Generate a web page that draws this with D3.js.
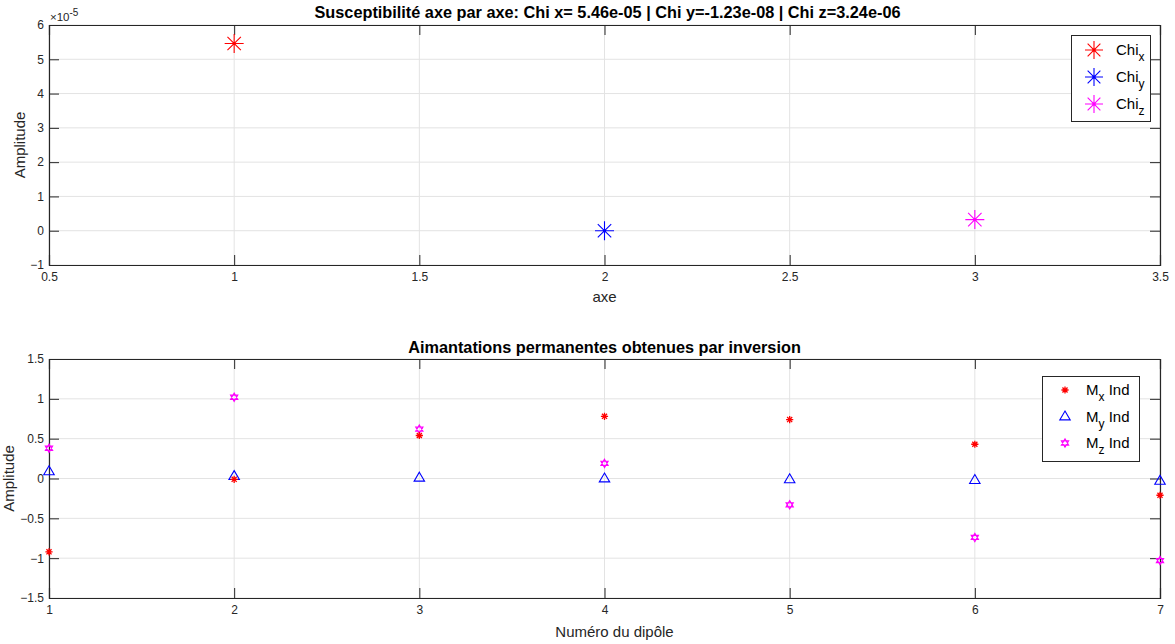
<!DOCTYPE html>
<html><head><meta charset="utf-8">
<script src="https://cdn.jsdelivr.net/npm/d3@7"></script>
<style>
body{margin:0;background:#fff;}
text{font-family:"Liberation Sans",Arial,Helvetica,sans-serif;}
</style></head>
<body><svg id="c" width="1175" height="644"></svg>
<script>
// ---- data ----
const topTitle = "Susceptibilité axe par axe: Chi x= 5.46e-05 | Chi y=-1.23e-08 | Chi z=3.24e-06";
const chiAxes = [1, 2, 3];
const chiValues = [5.46e-05, -1.23e-08, 3.24e-06];
const chiNames = ["x", "y", "z"];
const chiColors = ["#ff0000", "#0000ff", "#ff00ff"];
const topXTicks = [0.5, 1, 1.5, 2, 2.5, 3, 3.5];
const topYTicks = [-1, 0, 1, 2, 3, 4, 5, 6]; // x 1e-5

const botTitle = "Aimantations permanentes obtenues par inversion";
const dipoles = [1, 2, 3, 4, 5, 6, 7];
const Mx = [-0.92, -0.01, 0.54, 0.78, 0.74, 0.43, -0.21];
const My = [0.09, 0.03, 0.01, 0.00, -0.01, -0.02, -0.03];
const Mz = [0.38, 1.02, 0.62, 0.19, -0.33, -0.74, -1.03];
const botXTicks = [1, 2, 3, 4, 5, 6, 7];
const botYTicks = [-1.5, -1, -0.5, 0, 0.5, 1, 1.5];

const svg = d3.select("#c");
const axisCol = "#262626", gridCol = "#e3e3e3";

function frame(g, x, y, xt, yt, fmtX, fmtY){
  const [x0,x1] = x.range(), [y0,y1] = y.range(); // y0 bottom
  g.selectAll(".gx").data(xt).enter().append("line")
    .attr("x1",d=>x(d)).attr("x2",d=>x(d)).attr("y1",y0).attr("y2",y1)
    .attr("stroke",gridCol).attr("stroke-width",1);
  g.selectAll(".gy").data(yt).enter().append("line")
    .attr("y1",d=>y(d)).attr("y2",d=>y(d)).attr("x1",x0).attr("x2",x1)
    .attr("stroke",gridCol).attr("stroke-width",1);
  const tl = 10;
  const ax = g.append("g").attr("transform",`translate(0,${y0})`)
    .call(d3.axisBottom(x).tickValues(xt).tickSize(-tl).tickPadding(7).tickFormat(fmtX));
  const axT = g.append("g").attr("transform",`translate(0,${y1})`)
    .call(d3.axisTop(x).tickValues(xt).tickSize(-tl).tickFormat(""));
  const ay = g.append("g").attr("transform",`translate(${x0},0)`)
    .call(d3.axisLeft(y).tickValues(yt).tickSize(-tl).tickPadding(5).tickFormat(fmtY));
  const ayR = g.append("g").attr("transform",`translate(${x1},0)`)
    .call(d3.axisRight(y).tickValues(yt).tickSize(-tl).tickFormat(""));
  [ax,axT,ay,ayR].forEach(a=>{
    a.select(".domain").attr("stroke",axisCol).attr("stroke-width",1.2);
    a.selectAll(".tick line").attr("stroke",axisCol).attr("stroke-width",1);
    a.selectAll("text").attr("fill",axisCol).attr("font-size",12)
      .style("font-family",'"Liberation Sans",Arial,sans-serif');
  });
  return {ax, ay};
}

function asterisk(sel, r, color, sw){
  const p = [];
  for(let k=0;k<4;k++){
    const a = k*Math.PI/4;
    p.push(`M${-r*Math.cos(a)},${-r*Math.sin(a)}L${r*Math.cos(a)},${r*Math.sin(a)}`);
  }
  sel.append("path").attr("d",p.join("")).attr("stroke",color).attr("stroke-width",sw).attr("fill","none");
}
function triangle(sel, r, color){
  sel.append("path").attr("d",`M0,${-r}L${r*0.95},${r*0.62}L${-r*0.95},${r*0.62}Z`)
    .attr("stroke",color).attr("stroke-width",1.1).attr("fill","none");
}
function hexagram(sel, r, color){
  const t1=[], t2=[];
  for(let k=0;k<3;k++){
    const a1 = -Math.PI/2 + k*2*Math.PI/3, a2 = Math.PI/2 + k*2*Math.PI/3;
    t1.push([r*Math.cos(a1), r*Math.sin(a1)]);
    t2.push([r*Math.cos(a2), r*Math.sin(a2)]);
  }
  const d = "M"+t1.map(p=>p.join(",")).join("L")+"Z"+"M"+t2.map(p=>p.join(",")).join("L")+"Z";
  sel.append("path").attr("d",d).attr("stroke",color).attr("stroke-width",1.1).attr("fill","none");
}

// ---------- top panel ----------
const xT = d3.scaleLinear().domain([0.5,3.5]).range([49,1160]);
const yT = d3.scaleLinear().domain([-1,6]).range([265,25]);
const gT = svg.append("g");
frame(gT, xT, yT, topXTicks, topYTicks, d3.format(""), d3.format(""));
const ex = gT.append("text").attr("x",50).attr("y",21).attr("fill",axisCol).attr("font-size",11.5);
ex.append("tspan").text("×10");
ex.append("tspan").attr("dy",-5).attr("font-size",10).text("-5");

chiAxes.forEach((a,i)=>{
  const g = gT.append("g").attr("transform",`translate(${xT(a)},${yT(chiValues[i]*1e5)})`);
  asterisk(g, 9.5, chiColors[i], 1.1);
  g.append("circle").attr("r",1.6).attr("fill",chiColors[i]);
});
gT.append("text").attr("x",(49+1160)/2+3).attr("y",18).attr("text-anchor","middle")
  .attr("font-size",16.3).attr("font-weight","bold")
  .style("font-family",'"Liberation Sans Narrow","Arial Narrow","Liberation Sans",sans-serif')
  .attr("fill","#000").text(topTitle);
gT.append("text").attr("x",(49+1160)/2).attr("y",302).attr("text-anchor","middle")
  .attr("font-size",15).attr("fill",axisCol).text("axe");
gT.append("text").attr("transform",`translate(25,${(25+265)/2}) rotate(-90)`).attr("text-anchor","middle")
  .attr("font-size",15).attr("fill",axisCol).text("Amplitude");
const lT = gT.append("g");
lT.append("rect").attr("x",1071.5).attr("y",35.5).attr("width",79).attr("height",86)
  .attr("fill","#fff").attr("stroke",axisCol).attr("stroke-width",1);
chiNames.forEach((n,i)=>{
  const cy = 50 + i*27;
  const g = lT.append("g").attr("transform",`translate(1094,${cy})`);
  asterisk(g, 9, chiColors[i], 1.1);
  g.append("circle").attr("r",1.6).attr("fill",chiColors[i]);
  const t = lT.append("text").attr("x",1116).attr("y",cy+5).attr("font-size",15).attr("fill","#000");
  t.append("tspan").text("Chi");
  t.append("tspan").attr("dy",6).attr("font-size",12).text(n);
});

// ---------- bottom panel ----------
const xB = d3.scaleLinear().domain([1,7]).range([49,1160]);
const yB = d3.scaleLinear().domain([-1.5,1.5]).range([598,359]);
const gB = svg.append("g");
frame(gB, xB, yB, botXTicks, botYTicks, d3.format(""), d3.format(""));
const mkAst = (g,c)=>{asterisk(g,3.6,c,1.3);};
dipoles.forEach((d,i)=>{
  hexagram(gB.append("g").attr("transform",`translate(${xB(d)},${yB(Mz[i])})`), 4.2, "#ff00ff");
  triangle(gB.append("g").attr("transform",`translate(${xB(d)},${yB(My[i])})`), 5.5, "#0000ff");
  mkAst(gB.append("g").attr("transform",`translate(${xB(d)},${yB(Mx[i])})`), "#ff0000");
});
gB.append("text").attr("x",(49+1160)/2).attr("y",353).attr("text-anchor","middle")
  .attr("font-size",16.3).attr("font-weight","bold").attr("fill","#000").text(botTitle);
gB.append("text").attr("x",(49+1160)/2+10).attr("y",637).attr("text-anchor","middle")
  .attr("font-size",15).attr("fill",axisCol).text("Numéro du dipôle");
gB.append("text").attr("transform",`translate(14,${(359+598)/2}) rotate(-90)`).attr("text-anchor","middle")
  .attr("font-size",15).attr("fill",axisCol).text("Amplitude");
const lB = gB.append("g");
lB.append("rect").attr("x",1042.5).attr("y",376.5).attr("width",97).attr("height",85)
  .attr("fill","#fff").attr("stroke",axisCol).attr("stroke-width",1);
const names = ["x","y","z"];
const drawers = [g=>mkAst(g,"#ff0000"), g=>triangle(g,5.5,"#0000ff"), g=>hexagram(g,4.2,"#ff00ff")];
names.forEach((n,i)=>{
  const cy = 390 + i*26.5;
  drawers[i](lB.append("g").attr("transform",`translate(1065,${cy})`));
  const t = lB.append("text").attr("x",1086).attr("y",cy+5).attr("font-size",15).attr("fill","#000");
  t.append("tspan").text("M");
  t.append("tspan").attr("dy",6).attr("font-size",12).text(n);
  t.append("tspan").attr("dy",-6).text(" Ind");
});
</script></body></html>
